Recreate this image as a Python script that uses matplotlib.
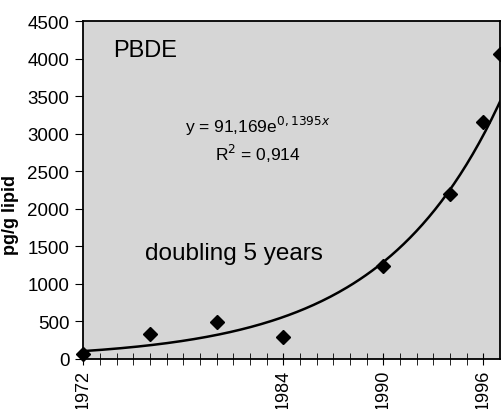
import numpy as np
import matplotlib
matplotlib.use("Agg")
import matplotlib.pyplot as plt

plt.rcParams['font.family'] = ['Liberation Sans', 'DejaVu Sans']

# measured concentrations (pg/g lipid)
years = [1972, 1976, 1980, 1984, 1990, 1994, 1996, 1997]
pbde = [70, 330, 490, 290, 1240, 2200, 3150, 4060]

# exponential trendline shown on the chart: y = a * exp(b * x), x = year - 1971
fit_a = 91.169
fit_b = 0.1395
fit_origin = 1971

year_labels = [1972, 1984, 1990, 1996]
y_ticks = list(range(0, 5000, 500))

fig = plt.figure(figsize=(5.01, 4.10), dpi=100)
ax = fig.add_axes([0.166, 0.122, 0.832, 0.824])
ax.set_facecolor('#d6d6d6')

xs = np.linspace(years[0], years[-1], 200)
ax.plot(xs, fit_a * np.exp(fit_b * (xs - fit_origin)), color='black', lw=1.8,
        zorder=2)
ax.plot(years, pbde, 'D', color='black', markersize=7, zorder=3, clip_on=False)

ax.set_xlim(1972, 1997)
ax.set_ylim(0, 4500)
ax.set_yticks(y_ticks)
ax.set_xticks(year_labels)
ax.set_xticks(range(1972, 1997), minor=True)
ax.set_xticklabels([str(y) for y in year_labels], rotation=90)
ax.tick_params(axis='y', direction='out', length=6, labelsize=13.5, pad=4)
ax.tick_params(axis='x', which='both', direction='inout', length=8,
               labelsize=13, pad=3)
for s in ax.spines.values():
    s.set_linewidth(1.3)

ax.set_ylabel('pg/g lipid', fontsize=13, fontweight='bold')
ax.yaxis.set_label_coords(-0.155, 0.43)

ax.text(0.072, 0.915, 'PBDE', transform=ax.transAxes, fontsize=17,
        va='center', ha='left')
ax.text(0.42, 0.69, r'y = 91,169e$^{0,1395x}$', transform=ax.transAxes,
        fontsize=12.5, va='center', ha='center')
ax.text(0.42, 0.61, r'R$^2$ = 0,914', transform=ax.transAxes,
        fontsize=12.5, va='center', ha='center')
ax.text(0.148, 0.315, 'doubling 5 years', transform=ax.transAxes,
        fontsize=17.5, va='center', ha='left')

fig.savefig('out.png', dpi=100)
